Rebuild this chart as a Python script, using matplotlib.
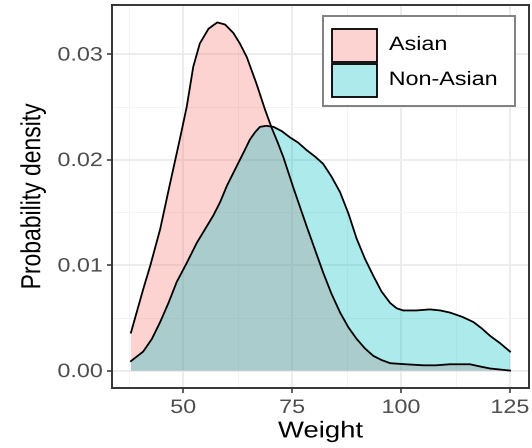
import matplotlib
matplotlib.use("Agg")
import matplotlib.pyplot as plt
from matplotlib.patches import Rectangle
from matplotlib.patheffects import AbstractPathEffect
from matplotlib.transforms import Affine2D
from matplotlib.ticker import MultipleLocator

# Kernel density estimates of body weight, by group
asian_weight = [38.0, 40.8, 42.4, 44.7, 46.9, 49.2, 50.8, 52.3, 53.8, 55.8, 57.8,
                59.6, 61.5, 63.0, 64.6, 66.8, 68.8, 70.3, 71.7, 73.0, 75.3, 76.8,
                78.3, 80.2, 82.1, 84.0, 86.0, 87.9, 89.8, 91.7, 93.6, 95.5, 97.5,
                101.0, 105.1, 108.0, 111.2, 115.8, 118.0, 120.4, 122.7, 125.0]
asian_density = [0.0036, 0.0077, 0.0099, 0.0134, 0.0176, 0.0219, 0.0250, 0.0288, 0.0310, 0.0324, 0.0330,
                 0.0328, 0.0320, 0.0310, 0.0297, 0.0272, 0.0247, 0.0230, 0.0216, 0.0202, 0.0173, 0.0155,
                 0.0137, 0.0115, 0.0093, 0.0073, 0.0055, 0.0041, 0.0030, 0.0021, 0.0014, 0.0010, 0.0007,
                 0.0006, 0.0005, 0.0005, 0.0006, 0.0006, 0.0004, 0.0002, 0.0001, 0.0000]

non_asian_weight = [38.0, 40.8, 42.8, 44.7, 46.6, 48.5, 50.8, 53.1, 55.0, 56.9, 58.5,
                    60.0, 62.3, 64.0, 65.3, 66.5, 67.6, 69.1, 70.7, 72.6, 74.5, 76.4,
                    78.3, 80.2, 82.1, 84.0, 86.0, 87.9, 89.8, 91.7, 93.6, 95.5, 97.5,
                    99.0, 100.5, 103.5, 106.6, 109.0, 111.2, 114.0, 116.6, 118.5, 120.4,
                    122.7, 125.0]
non_asian_density = [0.0009, 0.0018, 0.0030, 0.0046, 0.0064, 0.0084, 0.0102, 0.0121, 0.0134, 0.0147, 0.0160,
                     0.0175, 0.0194, 0.0208, 0.0219, 0.0226, 0.0231, 0.0232, 0.0231, 0.0227, 0.0221, 0.0216,
                     0.0209, 0.0203, 0.0196, 0.0184, 0.0169, 0.0149, 0.0125, 0.0106, 0.0090, 0.0075, 0.0064,
                     0.0059, 0.0057, 0.0057, 0.0058, 0.0057, 0.0055, 0.0051, 0.0046, 0.0040, 0.0033,
                     0.0026, 0.0018]

group_labels = ["Asian", "Non-Asian"]
group_colors = ["#F8766D", "#00BFC4"]

x_ticks = [50, 75, 100, 125]
y_ticks = [0.00, 0.01, 0.02, 0.03]

FILL_ALPHA = 0.32
TEXT_STRETCH = 1.2
SMALL_TEXT = 14
TITLE_TEXT = 16.5


class HStretch(AbstractPathEffect):
    """Widen glyph outlines horizontally about a chosen anchor."""

    def __init__(self, sx, anchor="center"):
        super().__init__()
        self.sx = sx
        self.anchor = anchor

    def draw_path(self, renderer, gc, tpath, affine, rgbFace=None):
        ext = tpath.get_extents(affine)
        if self.anchor == "right":
            x0 = ext.x1
        elif self.anchor == "left":
            x0 = ext.x0
        else:
            x0 = 0.5 * (ext.x0 + ext.x1)
        t = affine + Affine2D().translate(-x0, 0).scale(self.sx, 1.0).translate(x0, 0)
        renderer.draw_path(gc, tpath, t, rgbFace)


def widen(txt, anchor="center"):
    txt.set_path_effects([HStretch(TEXT_STRETCH, anchor)])


plt.rcParams["font.family"] = ["Liberation Sans", "DejaVu Sans"]

fig = plt.figure(figsize=(5.32, 4.48), dpi=100)
ax = fig.add_axes([112 / 532, 60 / 448, 417 / 532, 383 / 448])

series = [(asian_weight, asian_density), (non_asian_weight, non_asian_density)]
for (w, d), col in zip(series, group_colors):
    ax.fill_between(w, 0, d, facecolor=col, alpha=FILL_ALPHA, linewidth=0, zorder=2)
    ax.plot(w, d, color="black", linewidth=1.3, zorder=3)

ax.set_xlim(33.65, 129.35)
ax.set_ylim(-0.00165, 0.03465)
ax.set_xticks(x_ticks)
ax.set_yticks(y_ticks)
ax.set_xticklabels([str(t) for t in x_ticks])
ax.set_yticklabels([f"{t:.2f}" for t in y_ticks])
ax.xaxis.set_minor_locator(MultipleLocator(12.5))
ax.yaxis.set_minor_locator(MultipleLocator(0.005))

ax.grid(True, which="major", color="#EBEBEB", linewidth=1.3, zorder=0)
ax.grid(True, which="minor", color="#F3F3F3", linewidth=0.7, zorder=0)
ax.set_axisbelow(True)
for s in ax.spines.values():
    s.set_color("#333333")
    s.set_linewidth(1.4)

ax.tick_params(axis="both", which="major", length=3.6, width=1.1, color="#333333",
               labelsize=SMALL_TEXT, labelcolor="#4D4D4D")
ax.tick_params(axis="x", which="major", pad=5)
ax.tick_params(axis="y", which="major", pad=3)
ax.tick_params(axis="both", which="minor", length=0)

ax.set_xlabel("Weight", fontsize=TITLE_TEXT, color="black")
ax.set_ylabel("Probability density", fontsize=TITLE_TEXT, color="black")
ax.xaxis.set_label_coords(0.5, -0.082)
ax.yaxis.set_label_coords(-0.163, 0.5)

for lab in ax.get_xticklabels():
    widen(lab, "center")
for lab in ax.get_yticklabels():
    widen(lab, "right")
widen(ax.xaxis.label, "center")
widen(ax.yaxis.label, "center")

# Legend box with fill keys, placed in the upper right of the panel
ax.add_patch(Rectangle((0.506, 0.7363), 0.4604, 0.2350, transform=ax.transAxes,
                       facecolor="white", edgecolor="#808080", linewidth=1.4, zorder=5))
key_bottoms = [0.8512, 0.7598]
text_centres = [0.8943, 0.8029]
for lab, col, yb, yc in zip(group_labels, group_colors, key_bottoms, text_centres):
    ax.add_patch(Rectangle((0.5276, yb), 0.1079, 0.0862, transform=ax.transAxes,
                           facecolor="white", edgecolor="none", zorder=6))
    ax.add_patch(Rectangle((0.5276, yb), 0.1079, 0.0862, transform=ax.transAxes,
                           facecolor=col, alpha=FILL_ALPHA, edgecolor="none", zorder=7))
    ax.add_patch(Rectangle((0.5276, yb), 0.1079, 0.0862, transform=ax.transAxes,
                           facecolor="none", edgecolor="black", linewidth=1.3, zorder=8))
    t = ax.text(0.6643, yc, lab, transform=ax.transAxes, fontsize=SMALL_TEXT, color="black",
                ha="left", va="center", zorder=9)
    widen(t, "left")

fig.savefig("out.png", dpi=100)
